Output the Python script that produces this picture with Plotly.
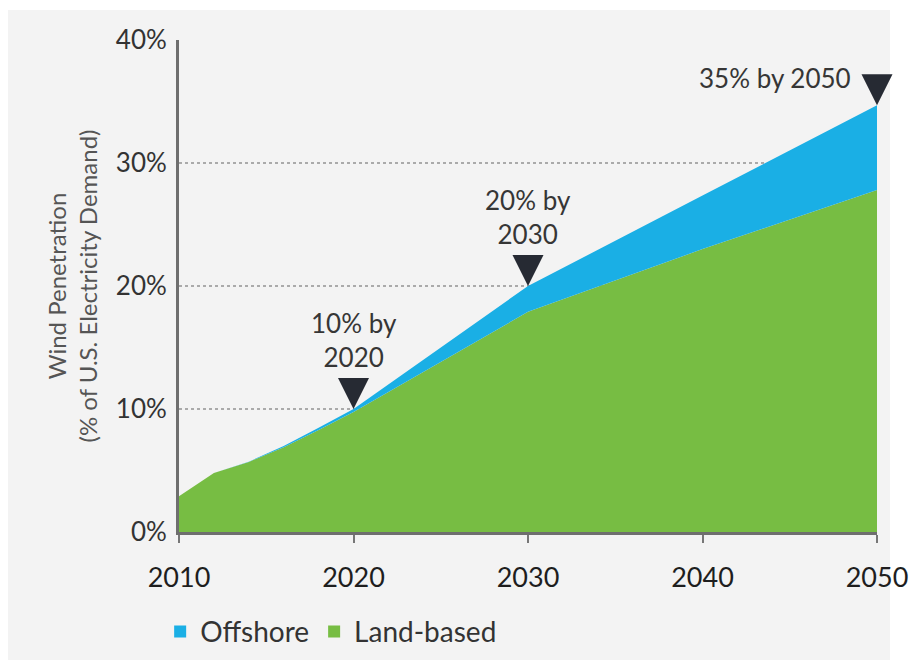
import plotly.graph_objects as go

years = [2010, 2012, 2014, 2016, 2018, 2020, 2030, 2040, 2050]
land_based = [2.9, 4.8, 5.7, 6.9, 8.3, 9.75, 17.9, 23.0, 27.8]
offshore = [0.0, 0.0, 0.02, 0.1, 0.18, 0.25, 2.1, 4.35, 6.9]

milestone_years = [2020, 2030, 2050]
milestone_values = [10, 20, 34.7]
milestone_labels = ["10% by<br>2020", "20% by<br>2030", "35% by 2050"]

x_ticks = [2010, 2020, 2030, 2040, 2050]
y_ticks = [0, 10, 20, 30, 40]
y_ticktext = ["0%", "10%", "20%", "30%", "40%"]

GREEN = "#77bd43"
BLUE = "#1aafe5"
BG = "#f3f3f3"
DARK = "#262a33"

fig = go.Figure()

fig.add_trace(go.Scatter(x=years, y=land_based, stackgroup="one", mode="none",
                         fillcolor=GREEN, showlegend=False, hoverinfo="skip"))
fig.add_trace(go.Scatter(x=years, y=offshore, stackgroup="one", mode="none",
                         fillcolor=BLUE, showlegend=False, hoverinfo="skip"))

# legend entries
fig.add_trace(go.Scatter(x=[None], y=[None], mode="markers", name="Offshore",
                         marker=dict(symbol="square", size=12, color=BLUE)))
fig.add_trace(go.Scatter(x=[None], y=[None], mode="markers", name="Land-based",
                         marker=dict(symbol="square", size=12, color=GREEN)))

# milestone triangles
fig.add_trace(go.Scatter(x=milestone_years, y=milestone_values, mode="markers",
                         marker=dict(symbol="arrow-down", size=31, color=DARK, line=dict(width=0)),
                         cliponaxis=False, showlegend=False, hoverinfo="skip"))

ann_font = dict(family="Lato", size=26, color="#363636")
for yr, val, lab in zip(milestone_years, milestone_values, milestone_labels):
    if yr == 2050:
        fig.add_annotation(x=yr, y=val, text=lab, showarrow=False, xanchor="right",
                           yanchor="middle", xshift=-24, yshift=27, font=ann_font)
    else:
        fig.add_annotation(x=yr, y=val, text=lab, showarrow=False, xanchor="center",
                           yanchor="bottom", yshift=34, font=ann_font)

fig.update_layout(
    width=910, height=665, autosize=False,
    margin=dict(l=179, r=33, t=40, b=133, autoexpand=False),
    paper_bgcolor="white", plot_bgcolor=BG,
    shapes=[dict(type="rect", xref="paper", yref="paper", x0=-0.245, x1=1.0186,
                 y0=-0.26, y1=1.061, fillcolor=BG, line=dict(width=0), layer="below")],
    xaxis=dict(range=[2010, 2050], tickvals=x_ticks, ticks="outside", ticklen=8,
               tickwidth=2, tickcolor="#777", showline=True, linewidth=3,
               linecolor="#6e6e6e", showgrid=False, zeroline=False, automargin=False,
               ticklabelstandoff=12,
               tickfont=dict(family="Lato", size=27, color="#1e1e1e")),
    yaxis=dict(range=[0, 40], tickvals=y_ticks, ticktext=y_ticktext, ticks="outside",
               ticklen=4, tickcolor="rgba(0,0,0,0)", showline=True, linewidth=3,
               linecolor="#6e6e6e", showgrid=True, gridcolor="#aaaaaa", griddash="dot",
               gridwidth=1.5, zeroline=False, automargin=False,
               tickfont=dict(family="Lato", size=26, color="#333333"),
               title=dict(text="Wind Penetration<br>(% of U.S. Electricity Demand)",
                          font=dict(family="Lato", size=24, color="#555555"), standoff=12)),
    legend=dict(orientation="h", x=-0.027, y=-0.203, xanchor="left", yanchor="middle",
                traceorder="normal",
                font=dict(family="Lato", size=28, color="#333333"),
                bgcolor="rgba(0,0,0,0)", itemwidth=30),
)

fig.write_html("out.html")
